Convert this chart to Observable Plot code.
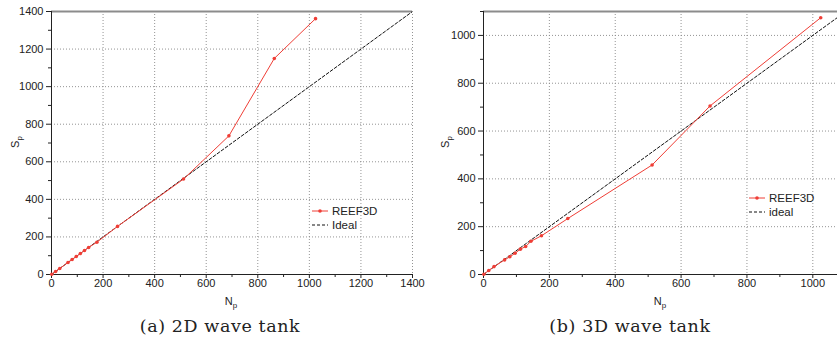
<!DOCTYPE html>
<html><head><meta charset="utf-8">
<script src="https://cdn.jsdelivr.net/npm/d3@7"></script>
<script src="https://cdn.jsdelivr.net/npm/@observablehq/plot@0.6"></script>
<style>
body{margin:0;background:#fff;}
#wrap{position:relative;width:837px;height:347px;overflow:hidden;}
#wrap svg, #wrap svg text{font-family:"Liberation Sans", Arial, sans-serif !important;}
.panel{position:absolute;top:0;}
.cap{position:absolute;font-family:"DejaVu Serif","Liberation Serif",serif;font-size:17.5px;letter-spacing:0.6px;color:#222;white-space:nowrap;transform:translateX(-50%);}
</style>
</head><body>
<div id="wrap"></div>
<script>
// ---- data ----
const np2d = [1,16,32,64,80,96,112,128,144,176,256,512,688,864,1024];
const sp2d = [1,16,32,64,80,96,112,128,144,172,256,508,738,1150,1362];
const ideal2dN = [0,1400];
const ideal2dS = [0,1400];
const np3d = [1,16,32,64,80,96,112,128,144,176,256,512,688,1024];
const sp3d = [1,17,33,61,74,89,106,117,139,162,234,458,705,1074];
const ideal3dN = [0,1100];
const ideal3dS = [0,1100];
const ticks2dMajor = [0,200,400,600,800,1000,1200,1400];
const ticks2dMinor = [100,300,500,700,900,1100,1300];
const ticks3dMajor = [0,200,400,600,800,1000];
const ticks3dMinor = [100,300,500,700,900,1100];
const seriesNames = ["REEF3D","Ideal"];
const seriesNames3d = ["REEF3D","ideal"];
const captions = ["(a) 2D wave tank","(b) 3D wave tank"];

const RED = "#ef3e36";
const FONT = "Liberation Sans, Arial, sans-serif";
const fmt = d => String(d);

function panel(o){
  const rows = o.N.map((n,i)=>({n, s:o.S[i]}));
  const ideal = o.iN.map((n,i)=>({n, s:o.iS[i]}));
  const svg = Plot.plot({
    width:o.width, height:312,
    marginLeft:o.ml, marginRight:o.mr, marginTop:11, marginBottom:38,
    style:{fontFamily:FONT, fontSize:"11px", color:"#222", background:"transparent", overflow:"visible"},
    x:{domain:o.xd},
    y:{domain:o.yd},
    marks:[
      Plot.gridX(o.xMajor,{stroke:"#888", strokeOpacity:0.9, strokeDasharray:"1,2"}),
      Plot.gridY(o.yMajor,{stroke:"#888", strokeOpacity:0.9, strokeDasharray:"1,2"}),
      Plot.axisX(o.xMinor,{tickSize:3, tickFormat:()=>"", label:null, stroke:"#222"}),
      Plot.axisX(o.xMajor,{tickSize:4, tickPadding:1, tickFormat:fmt, label:null, stroke:"#222", fill:"#222"}),
      Plot.axisY(o.yMinor,{tickSize:3, tickFormat:()=>"", label:null, stroke:"#222"}),
      Plot.axisY(o.yMajor,{tickSize:5, tickPadding:3, tickFormat:fmt, label:null, stroke:"#222", fill:"#222"}),
      Plot.ruleY([o.yd[1]],{stroke:"#8c8c8c", strokeWidth:2}),
      Plot.ruleX([0],{stroke:"#222"}),
      Plot.ruleY([0],{stroke:"#222"}),
      Plot.line(ideal,{x:"n", y:"s", stroke:"#111", strokeWidth:1, strokeDasharray:"3,2", clip:true}),
      Plot.line(rows,{x:"n", y:"s", stroke:RED, strokeWidth:1}),
      Plot.dot(rows,{x:"n", y:"s", r:1.8, fill:RED, stroke:"none"})
    ]
  });
  const s = d3.select(svg);
  // axis labels with subscripts
  const xl = s.append("text").attr("x", o.nx).attr("y", 305)
    .attr("text-anchor","middle").attr("font-family",FONT).attr("font-size",11).attr("fill","#222");
  xl.append("tspan").text("N");
  xl.append("tspan").attr("font-size",8).attr("dy",2.5).text("p");
  const yl = s.append("text").attr("transform",`translate(${o.sx},142) rotate(-90)`)
    .attr("text-anchor","middle").attr("font-family",FONT).attr("font-size",11).attr("fill","#222");
  yl.append("tspan").text("S");
  yl.append("tspan").attr("font-size",8).attr("dy",2.5).text("p");
  // legend
  const g = s.append("g").attr("font-family",FONT).attr("font-size",11.5).attr("fill","#222").attr("text-anchor","start");
  const lx = o.lx, ly = o.ly;
  g.append("line").attr("x1",lx).attr("x2",lx+16).attr("y1",ly).attr("y2",ly).attr("stroke",RED).attr("stroke-width",1);
  g.append("circle").attr("cx",lx+8).attr("cy",ly).attr("r",1.8).attr("fill",RED);
  g.append("text").attr("x",lx+20).attr("y",ly+4).attr("text-anchor","start").text(o.names[0]);
  g.append("line").attr("x1",lx).attr("x2",lx+16).attr("y1",ly+14).attr("y2",ly+14).attr("stroke","#111").attr("stroke-dasharray","3,2");
  g.append("text").attr("x",lx+20).attr("y",ly+18).attr("text-anchor","start").text(o.names[1]);
  return svg;
}

const wrap = document.getElementById("wrap");
const pa = document.createElement("div"); pa.className="panel"; pa.style.left="0px";
pa.appendChild(panel({width:420, ml:51, mr:8, xd:[0,1400], yd:[0,1400], N:np2d, S:sp2d, iN:ideal2dN, iS:ideal2dS,
  xMajor:ticks2dMajor, xMinor:ticks2dMinor, yMajor:ticks2dMajor, yMinor:ticks2dMinor,
  nx:231, sx:19, lx:312, ly:211, names:seriesNames}));
wrap.appendChild(pa);
const pb = document.createElement("div"); pb.className="panel"; pb.style.left="420px";
pb.appendChild(panel({width:417, ml:63, mr:0, xd:[0,1075], yd:[0,1100], N:np3d, S:sp3d, iN:ideal3dN, iS:ideal3dS,
  xMajor:ticks3dMajor, xMinor:ticks3dMinor.filter(t=>t<=1075), yMajor:ticks3dMajor, yMinor:ticks3dMinor,
  nx:240, sx:29, lx:329, ly:198, names:seriesNames3d}));
wrap.appendChild(pb);
[[captions[0],220],[captions[1],630]].forEach(([t,x])=>{
  const c=document.createElement("div"); c.className="cap"; c.textContent=t;
  c.style.left=x+"px"; c.style.top="316px"; wrap.appendChild(c);
});
</script>
</body></html>
